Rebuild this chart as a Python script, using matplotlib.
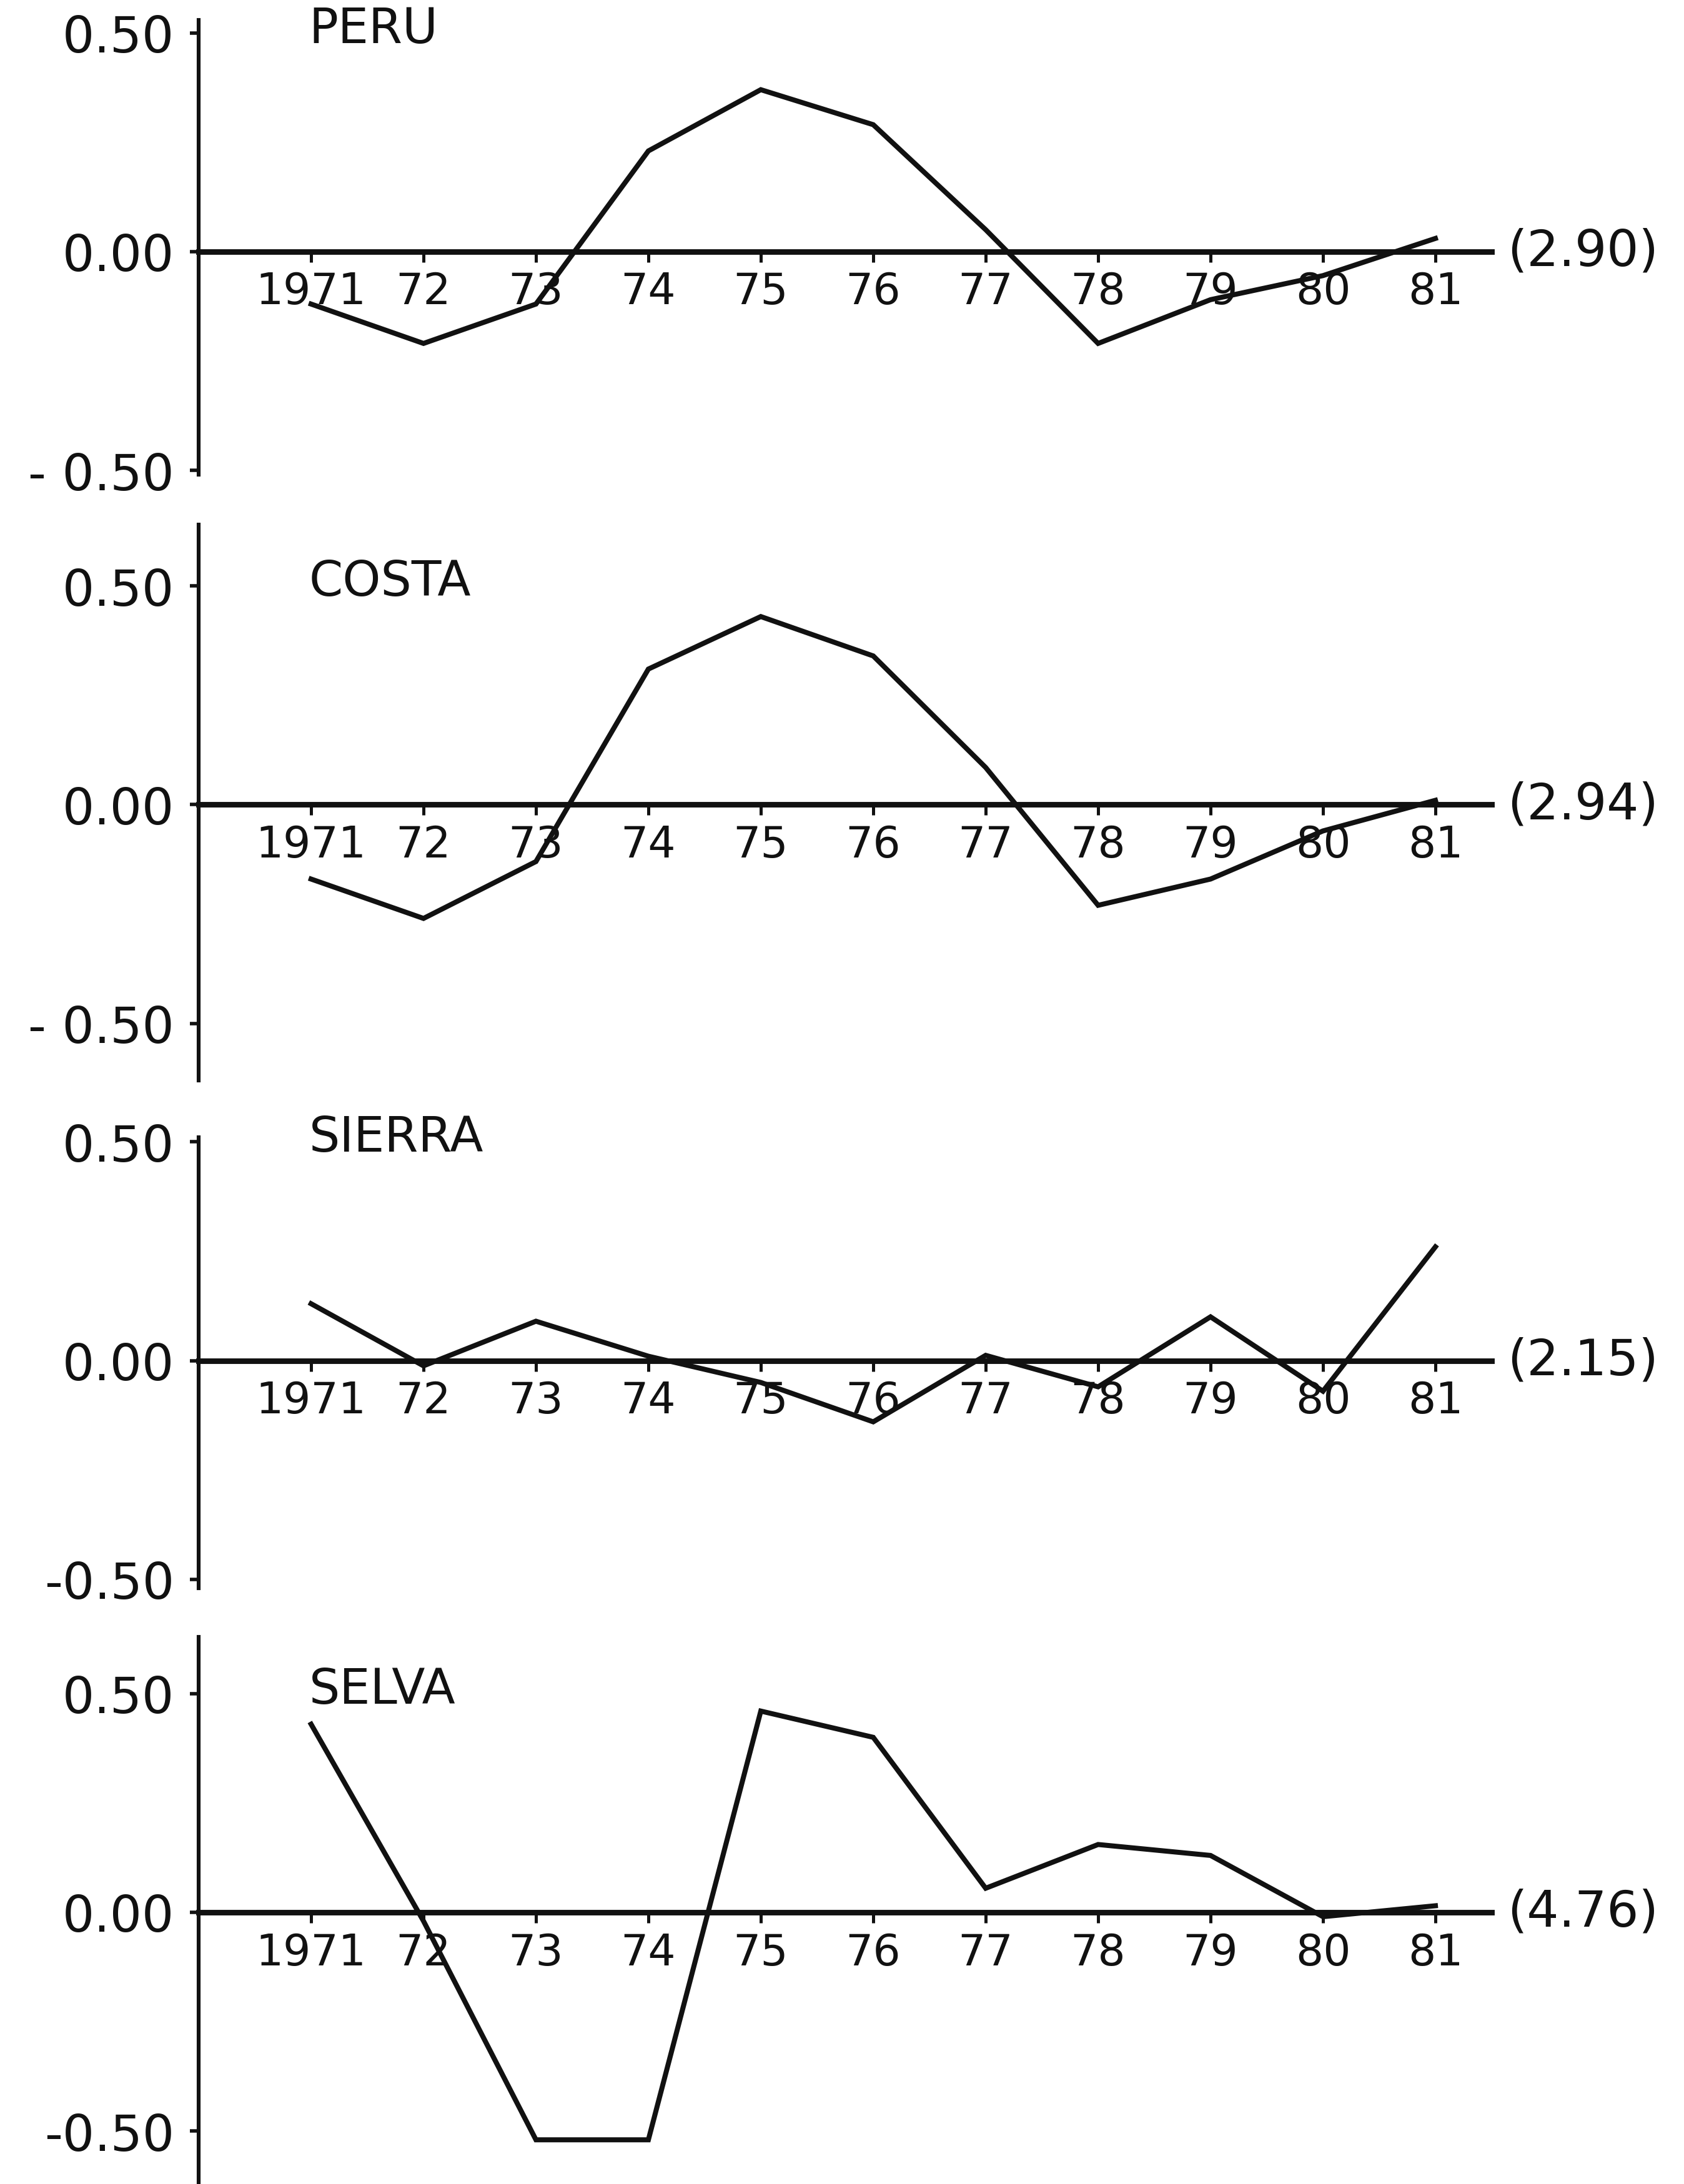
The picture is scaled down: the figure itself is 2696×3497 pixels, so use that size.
import matplotlib.pyplot as plt

# years on the x axis and how they are written under the baseline
years = [1971, 1972, 1973, 1974, 1975, 1976, 1977, 1978, 1979, 1980, 1981]
year_labels = ['1971', '72', '73', '74', '75', '76', '77', '78', '79', '80', '81']

# panel names and the bracketed value printed at the end of each baseline
regions = ['PERU', 'COSTA', 'SIERRA', 'SELVA']
base_values = ['(2.90)', '(2.94)', '(2.15)', '(4.76)']
low_labels = ['- 0.50', '- 0.50', '-0.50', '-0.50']

# deviations
peru = [-0.12, -0.21, -0.12, 0.23, 0.37, 0.29, 0.05, -0.21, -0.11, -0.055, 0.03]
costa = [-0.17, -0.26, -0.13, 0.31, 0.43, 0.34, 0.085, -0.23, -0.17, -0.06, 0.01]
sierra = [0.13, -0.012, 0.09, 0.01, -0.05, -0.14, 0.012, -0.06, 0.10, -0.07, 0.26]
selva = [0.43, -0.02, -0.52, -0.52, 0.46, 0.40, 0.055, 0.155, 0.13, -0.01, 0.015]
series = [peru, costa, sierra, selva]

# layout, measured in pixels of a 1208 x 1568 view of the page
W, H = 1208.0, 1568.0
zero_y = [181, 578, 977, 1373]
spine_bounds = [(-0.51, 0.53), (-0.63, 0.64), (-0.52, 0.51), (-0.62, 0.63)]
px_per_unit = 314.0
ylim = 0.66
left = 142.5 / W
width = (1070 - 142.5) / W

ink = '#111111'
plt.rcParams['font.family'] = ['DejaVu Sans']

fig = plt.figure(figsize=(13.48, 17.49), dpi=200)
fig.patch.set_facecolor('white')

for i, name in enumerate(regions):
    bottom = 1 - (zero_y[i] + ylim * px_per_unit) / H
    height = 2 * ylim * px_per_unit / H
    ax = fig.add_axes([left, bottom, width, height])
    ax.patch.set_visible(False)

    ax.plot(years, series[i], color=ink, linewidth=2.9, solid_joinstyle='miter')

    ax.set_xlim(1970, 1981.5)
    ax.set_ylim(-ylim, ylim)

    # axes drawn like the hand-made original
    ax.spines['top'].set_visible(False)
    ax.spines['right'].set_visible(False)
    ax.spines['left'].set_linewidth(2.2)
    ax.spines['left'].set_color(ink)
    ax.spines['left'].set_bounds(*spine_bounds[i])
    ax.spines['bottom'].set_position(('data', 0))
    ax.spines['bottom'].set_linewidth(3.2)
    ax.spines['bottom'].set_color(ink)
    ax.spines['bottom'].set_bounds(1970, 1981.5)

    ax.set_xticks(years, year_labels)
    ax.tick_params(axis='x', direction='out', length=6, width=1.8, pad=5,
                   labelsize=25, colors=ink)
    ax.set_yticks([-0.5, 0, 0.5], [low_labels[i], '0.00', '0.50'])
    ax.tick_params(axis='y', direction='out', length=5, width=2, pad=9,
                   labelsize=29, colors=ink)

    ax.text(1970.98, 0.51, name, ha='left', va='center', fontsize=28, color=ink)
    ax.text(1.012, 0, base_values[i], transform=ax.get_yaxis_transform(),
            ha='left', va='center', fontsize=29, color=ink)

fig.savefig('out.png', dpi=200, facecolor='white')
